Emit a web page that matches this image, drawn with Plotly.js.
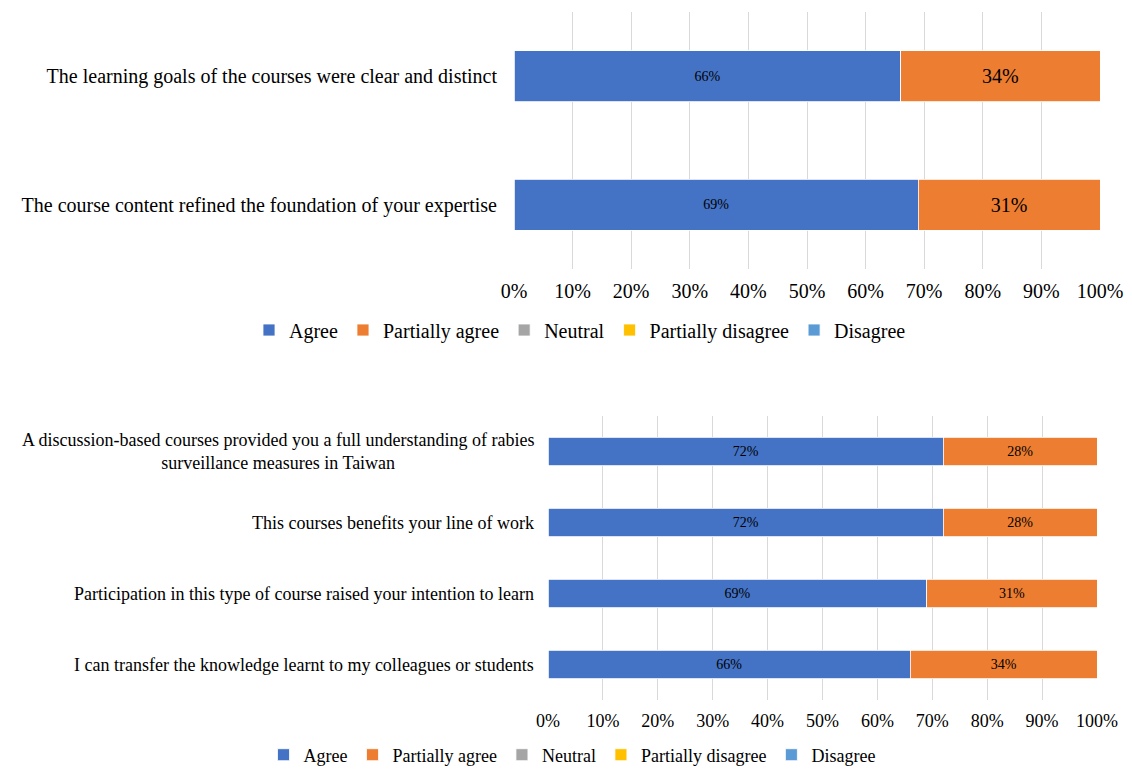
<!DOCTYPE html>
<html>
<head>
<meta charset="utf-8">
<script src="https://cdn.plot.ly/plotly-3.0.1.min.js"></script>
<style>html,body{margin:0;padding:0;background:#fff;}#chart{width:1132px;height:769px;}</style>
</head>
<body>
<div id="chart"></div>
<script>
// ---- Data ----
const seriesNames = ["Agree", "Partially agree", "Neutral", "Partially disagree", "Disagree"];
const seriesColors = ["#4472C4", "#ED7D31", "#A5A5A5", "#FFC000", "#5B9BD5"];

const topCategories = [
  "The learning goals of the courses were clear and distinct",
  "The course content refined the foundation of your expertise"
];
const topAgree = [66, 69];
const topPartAgree = [34, 31];
const topNeutral = [0, 0];
const topPartDisagree = [0, 0];
const topDisagree = [0, 0];

const bottomCategories = [
  "A discussion-based courses provided you a full understanding of rabies<br>surveillance measures in Taiwan",
  "This courses benefits your line of work",
  "Participation in this type of course raised your intention to learn",
  "I can transfer the knowledge learnt to my colleagues or students"
];
const bottomAgree = [72, 72, 69, 66];
const bottomPartAgree = [28, 28, 31, 34];
const bottomNeutral = [0, 0, 0, 0];
const bottomPartDisagree = [0, 0, 0, 0];
const bottomDisagree = [0, 0, 0, 0];

const tickVals = [0, 10, 20, 30, 40, 50, 60, 70, 80, 90, 100];
const tickText = ["0%", "10%", "20%", "30%", "40%", "50%", "60%", "70%", "80%", "90%", "100%"];

// ---- Build ----
const FONT = '"Liberation Serif", "Times New Roman", serif';
const topSeries = [topAgree, topPartAgree, topNeutral, topPartDisagree, topDisagree];
const bottomSeries = [bottomAgree, bottomPartAgree, bottomNeutral, bottomPartDisagree, bottomDisagree];
const topTextSizes = [14, 20, 14, 14, 14];

const traces = [];
topSeries.forEach((vals, i) => {
  traces.push({
    type: "bar", orientation: "h",
    x: vals, y: topCategories,
    name: seriesNames[i],
    marker: {color: seriesColors[i], line: {color: "#ffffff", width: 0.8}},
    text: vals.map(v => v > 0 ? v + "%" : ""),
    textposition: "inside", insidetextanchor: "middle",
    textfont: {family: FONT, size: topTextSizes[i], color: "#000000"},
    xaxis: "x", yaxis: "y", legend: "legend",
    hoverinfo: "x+y+name"
  });
});
bottomSeries.forEach((vals, i) => {
  traces.push({
    type: "bar", orientation: "h",
    x: vals, y: bottomCategories,
    name: seriesNames[i],
    marker: {color: seriesColors[i], line: {color: "#ffffff", width: 0.8}},
    text: vals.map(v => v > 0 ? v + "%" : ""),
    textposition: "inside", insidetextanchor: "middle",
    textfont: {family: FONT, size: 14, color: "#000000"},
    xaxis: "x2", yaxis: "y2", legend: "legend2",
    hoverinfo: "x+name"
  });
});

const annotations = bottomCategories.map(c => ({
  xref: "paper", yref: "y2", x: 536 / 1132, y: c,
  xanchor: "right", yanchor: "middle", align: "center",
  text: c, showarrow: false,
  font: {family: FONT, size: 18, color: "#000000"}
}));

const xCommon = {
  range: [0, 100], tickvals: tickVals, ticktext: tickText,
  showgrid: true, gridcolor: "#D9D9D9", gridwidth: 1,
  zeroline: false, showline: false, ticks: "", fixedrange: true
};

const layout = {
  width: 1132, height: 769,
  margin: {l: 0, r: 0, t: 0, b: 0, autoexpand: false},
  paper_bgcolor: "#ffffff", plot_bgcolor: "#ffffff",
  barmode: "stack", bargap: 0.6,
  font: {family: FONT, color: "#000000"},
  xaxis: Object.assign({}, xCommon, {
    domain: [514 / 1132, 1100 / 1132], anchor: "y",
    tickfont: {family: FONT, size: 20, color: "#000000"},
    ticklabelstandoff: 8
  }),
  yaxis: {
    domain: [1 - 269 / 769, 1 - 12 / 769], anchor: "x",
    autorange: "reversed", showgrid: false, zeroline: false, showline: false,
    ticks: "", ticklabelstandoff: 16,
    tickfont: {family: FONT, size: 20, color: "#000000"}
  },
  xaxis2: Object.assign({}, xCommon, {
    domain: [548 / 1132, 1097 / 1132], anchor: "y2",
    tickfont: {family: FONT, size: 18, color: "#000000"},
    ticklabelstandoff: 8
  }),
  yaxis2: {
    domain: [1 - 700 / 769, 1 - 416 / 769], anchor: "x2",
    autorange: "reversed", showgrid: false, zeroline: false, showline: false,
    ticks: "", showticklabels: false
  },
  legend: {
    orientation: "h", x: 580 / 1132, xanchor: "center", y: 1 - 330 / 769, yanchor: "middle",
    font: {family: FONT, size: 20, color: "#000000"},
    itemwidth: 30, traceorder: "normal", bgcolor: "rgba(0,0,0,0)"
  },
  legend2: {
    orientation: "h", x: 572 / 1132, xanchor: "center", y: 1 - 755 / 769, yanchor: "middle",
    font: {family: FONT, size: 18, color: "#000000"},
    itemwidth: 30, traceorder: "normal", bgcolor: "rgba(0,0,0,0)"
  },
  annotations: annotations
};

Plotly.newPlot("chart", traces, layout, {displayModeBar: false, staticPlot: true});
</script>
</body>
</html>
